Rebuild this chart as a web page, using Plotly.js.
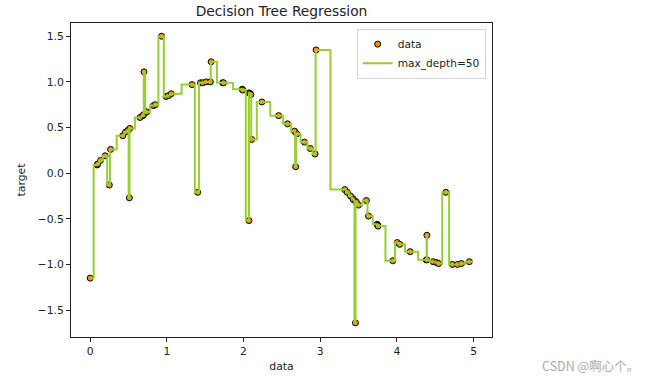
<!DOCTYPE html>
<html>
<head>
<meta charset="utf-8">
<script src="https://cdn.plot.ly/plotly-3.0.1.min.js"></script>
<style>html,body{margin:0;padding:0;background:#fff;}#chart{width:650px;height:378px;}</style>
</head>
<body>
<div id="chart"></div>
<script>
// sample positions (data) and targets
const dataX = [0.0006, 0.0914, 0.0968, 0.1369, 0.1953, 0.2498, 0.2668, 0.4252, 0.4617, 0.4917,
  0.5117, 0.5161, 0.6501, 0.6874, 0.6964, 0.7019, 0.7336, 0.7338, 0.8268, 0.8492,
  0.9313, 0.9905, 1.0223, 1.0581, 1.3277, 1.4022, 1.4389, 1.4681, 1.5117, 1.5671,
  1.5776, 1.7278, 1.7388, 1.9838, 1.9884, 2.0703, 2.0709, 2.0851, 2.0865, 2.0960,
  2.1055, 2.2395, 2.4579, 2.5744, 2.6658, 2.6795, 2.6941, 2.7934, 2.8706, 2.9328,
  2.9465, 3.3190, 3.3523, 3.3942, 3.4261, 3.4325, 3.4594, 3.4616, 3.4720, 3.4988,
  3.6016, 3.6300, 3.7408, 3.7507, 3.7541, 3.9464, 4.0037, 4.0370, 4.1731, 4.3819,
  4.3906, 4.3907, 4.4730, 4.5170, 4.5430, 4.6375, 4.7230, 4.7894, 4.8413, 4.9443];
const dataY = [-1.15, 0.09, 0.10, 0.14, 0.19, -0.13, 0.26, 0.41, 0.45, 0.47,
  -0.27, 0.49, 0.61, 0.63, 0.64, 1.11, 0.67, 0.67, 0.74, 0.75,
  1.50, 0.84, 0.85, 0.87, 0.97, -0.21, 0.99, 0.99, 1.00, 1.00,
  1.22, 0.99, 0.99, 0.92, 0.91, -0.52, 0.88, 0.87, 0.87, 0.86,
  0.37, 0.78, 0.63, 0.54, 0.46, 0.07, 0.43, 0.34, 0.27, 0.21,
  1.35, -0.18, -0.21, -0.25, -0.28, -0.29, -1.64, -0.31, -0.32, -0.35,
  -0.30, -0.47, -0.56, -0.57, -0.58, -0.96, -0.76, -0.78, -0.86, -0.95,
  -0.68, -0.95, -0.97, -0.98, -0.99, -0.21, -1.00, -1.00, -0.99, -0.97];
// prediction grid ends
const testStart = 0.0;
const testEnd = 4.99;
const seriesNames = ["data", "max_depth=50"];
const xTicks = [0, 1, 2, 3, 4, 5];
const yTicks = [-1.5, -1.0, -0.5, 0.0, 0.5, 1.0, 1.5];

// piecewise-constant tree prediction: each sample's value holds up to midpoints
const lineX = [testStart].concat(dataX, [testEnd]);
const lineY = [dataY[0]].concat(dataY, [dataY[dataY.length - 1]]);

const font = "DejaVu Sans, sans-serif";
const txt = "#222";
const traces = [
  {
    type: "scatter", mode: "markers", name: seriesNames[0],
    x: dataX, y: dataY,
    marker: {color: "darkorange", size: 6, line: {color: "black", width: 1}}
  },
  {
    type: "scatter", mode: "lines", name: seriesNames[1],
    x: lineX, y: lineY,
    line: {color: "yellowgreen", width: 2, shape: "hvh"}
  }
];

const axisCommon = {
  showgrid: false, zeroline: false, showline: true, mirror: true,
  linecolor: "#222", linewidth: 1, ticks: "outside", ticklen: 4,
  tickcolor: "#222", tickwidth: 1, tickfont: {family: font, size: 10.8, color: txt},
  automargin: false
};

const layout = {
  width: 650, height: 378,
  margin: {l: 71, r: 158, t: 23, b: 41},
  paper_bgcolor: "#fff", plot_bgcolor: "#fff",
  showlegend: true,
  title: {text: "Decision Tree Regression", font: {family: font, size: 13.8, color: txt},
          x: 0.5, xref: "paper", xanchor: "center", y: 1 - 11 / 378, yref: "container", yanchor: "middle"},
  xaxis: Object.assign({}, axisCommon, {
    range: [-0.2495, 5.2395], tickvals: xTicks, ticktext: xTicks.map(String),
    title: {text: "data", font: {family: font, size: 10.8, color: txt}, standoff: 5}
  }),
  yaxis: Object.assign({}, axisCommon, {
    range: [-1.795, 1.645], tickvals: yTicks, tickformat: ".1f",
    title: {text: "target", font: {family: font, size: 10.8, color: txt}, standoff: 9}
  }),
  legend: {
    x: 0.985, y: 0.982, xanchor: "right", yanchor: "top",
    bgcolor: "rgba(255,255,255,0.8)", bordercolor: "#d6d6d6", borderwidth: 1,
    font: {family: font, size: 10.6, color: txt}, itemwidth: 30, tracegroupgap: 0
  },
  annotations: [{
    text: "CSDN @啊心个。", xref: "paper", yref: "paper",
    x: (641 - 71) / 421, y: -(365 - 337) / 314, xanchor: "right", yanchor: "middle",
    showarrow: false, font: {family: "Noto Sans CJK SC, sans-serif", size: 12.5, color: "#aaaaaa"}
  }]
};

Plotly.newPlot("chart", traces, layout, {displayModeBar: false, staticPlot: true});
</script>
</body>
</html>
